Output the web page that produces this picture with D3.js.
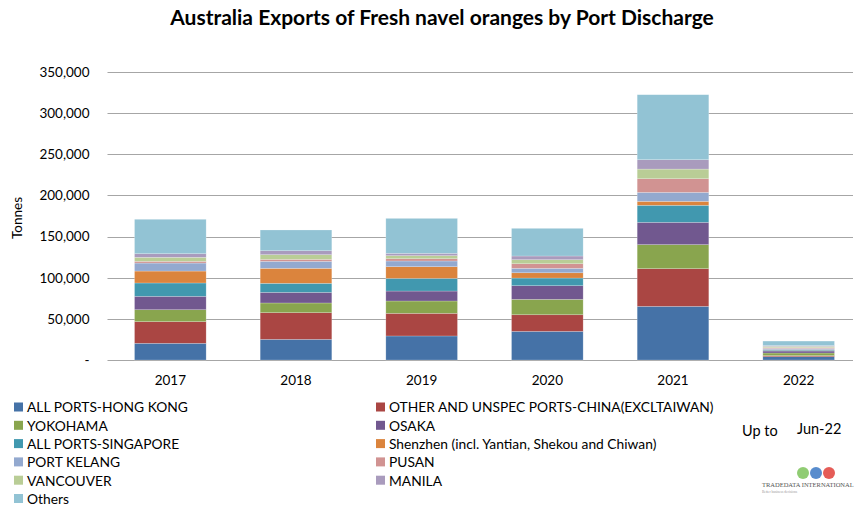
<!DOCTYPE html>
<html>
<head>
<meta charset="utf-8">
<script src="https://cdn.jsdelivr.net/npm/d3@7"></script>
<style>
  body { margin: 0; background: #fff; }
  svg { font-family: Lato, "Open Sans", sans-serif; }
</style>
</head>
<body>
<div id="chart"></div>
<script>
const years = ["2017", "2018", "2019", "2020", "2021", "2022"];
const ports = [
    "ALL PORTS-HONG KONG", "OTHER AND UNSPEC PORTS-CHINA(EXCLTAIWAN)",
    "YOKOHAMA", "OSAKA",
    "ALL PORTS-SINGAPORE", "Shenzhen (incl. Yantian, Shekou and Chiwan)",
    "PORT KELANG", "PUSAN",
    "VANCOUVER", "MANILA",
    "Others"
];
const portColors = ["#4572a7", "#aa4643", "#89a54e", "#71588f", "#4198af", "#db843d",
    "#93a9cf", "#d19392", "#b9cd96", "#a99bbd", "#92c3d4"];

// tonnes per year, one array per port
const hongKong   = [20300, 25100, 29200, 34800, 65200, 4000];
const chinaOther = [26300, 32400, 27500, 20200, 45800, 1300];
const yokohama   = [14500, 11800, 15000, 18700, 29200, 3200];
const osaka      = [16300, 12900, 12100, 16600, 27100, 2400];
const singapore  = [16200, 11000, 15400, 9300, 20700, 1100];
const shenzhen   = [14500, 18200, 14200, 6400, 4800, 500];
const portKelang = [9700, 8500, 6900, 5400, 10900, 1500];
const pusan      = [2100, 2400, 2800, 5600, 16600, 1000];
const vancouver  = [4900, 5700, 3700, 4900, 11700, 1500];
const manila     = [4400, 4800, 2800, 4500, 11400, 1000];
const others     = [41800, 25200, 42500, 33600, 79000, 5500];

const seriesValues = [hongKong, chinaOther, yokohama, osaka, singapore, shenzhen,
    portKelang, pusan, vancouver, manila, others];
const yTicks = [0, 50000, 100000, 150000, 200000, 250000, 300000, 350000];

const W = 854, H = 506;
const plot = { left: 107.5, right: 861.5, top: 72, bottom: 360 };

const svg = d3.select("#chart").append("svg")
    .attr("width", W)
    .attr("height", H);

svg.append("text")
    .attr("x", 442)
    .attr("y", 25)
    .attr("text-anchor", "middle")
    .style("font-size", "21px")
    .style("font-weight", "bold")
    .attr("fill", "#000")
    .text("Australia Exports of Fresh navel oranges by Port Discharge");

const x = d3.scaleBand()
    .domain(years)
    .range([plot.left, plot.right])
    .paddingInner(0.43)
    .paddingOuter(0.215);

const y = d3.scaleLinear()
    .domain([0, 350000])
    .range([plot.bottom, plot.top]);

// gridlines
svg.append("g")
    .selectAll("line")
    .data(yTicks)
    .join("line")
    .attr("x1", plot.left)
    .attr("x2", 853)
    .attr("y1", d => Math.round(y(d)) + 0.5)
    .attr("y2", d => Math.round(y(d)) + 0.5)
    .attr("stroke", "#a6a6a6")
    .attr("stroke-width", 1.2);

// y axis labels
svg.append("g")
    .attr("transform", `translate(${plot.left}, 0)`)
    .call(d3.axisLeft(y).tickValues(yTicks).tickSize(0).tickPadding(18)
        .tickFormat(d => d === 0 ? "-" : d3.format(",")(d)))
    .call(g => g.select(".domain").remove())
    .selectAll(".tick text")
    .style("font-family", "Lato, 'Open Sans', sans-serif")
    .style("font-size", "13.5px")
    .attr("fill", "#000");

svg.append("text")
    .attr("transform", "translate(22, 218) rotate(-90)")
    .attr("text-anchor", "middle")
    .style("font-size", "13.5px")
    .attr("fill", "#000")
    .text("Tonnes");

// stacked bars
const table = years.map((yr, i) => {
    const row = { year: yr };
    ports.forEach((p, j) => { row[p] = seriesValues[j][i]; });
    return row;
});
const stacked = d3.stack().keys(ports)(table);

svg.append("g")
    .selectAll("g")
    .data(stacked)
    .join("g")
    .attr("fill", (d, i) => portColors[i])
    .selectAll("rect")
    .data(d => d)
    .join("rect")
    .attr("x", d => x(d.data.year))
    .attr("width", x.bandwidth())
    .attr("y", d => y(d[1]))
    .attr("height", d => y(d[0]) - y(d[1]))
    .attr("stroke", "#ffffff")
    .attr("stroke-opacity", 0.35)
    .attr("stroke-width", 0.6);

// x axis labels
svg.append("g")
    .attr("transform", `translate(0, ${plot.bottom})`)
    .call(d3.axisBottom(x).tickSize(0).tickPadding(15))
    .call(g => g.select(".domain").remove())
    .selectAll(".tick text")
    .style("font-family", "Lato, 'Open Sans', sans-serif")
    .style("font-size", "13.5px")
    .attr("fill", "#000");

// legend, two columns
const legend = svg.append("g");
const legendItems = legend.selectAll("g")
    .data(ports)
    .join("g")
    .attr("transform", (d, i) => `translate(${i % 2 === 0 ? 14 : 376}, ${407.5 + Math.floor(i / 2) * 18.3})`);

legendItems.append("rect")
    .attr("x", 0)
    .attr("y", -5)
    .attr("width", 9)
    .attr("height", 9)
    .attr("fill", (d, i) => portColors[i]);

legendItems.append("text")
    .attr("x", 13)
    .attr("y", 0)
    .attr("dy", "0.35em")
    .style("font-size", "13.8px")
    .attr("fill", "#000")
    .text(d => d);

// "Up to" note
svg.append("text")
    .attr("x", 742)
    .attr("y", 436)
    .style("font-size", "14.5px")
    .attr("fill", "#000")
    .text("Up to");

svg.append("text")
    .attr("x", 797)
    .attr("y", 434)
    .style("font-size", "14.5px")
    .attr("fill", "#000")
    .text("Jun-22");

// small logo
const logo = svg.append("g").attr("transform", "translate(760, 465)");
["#7cc35a", "#3b78c4", "#e0403a"].forEach((c, i) => {
    logo.append("circle")
        .attr("cx", 43 + i * 13)
        .attr("cy", 8)
        .attr("r", 6)
        .attr("fill", c)
        .attr("opacity", 0.85);
});
logo.append("text")
    .attr("x", 2)
    .attr("y", 22)
    .style("font-family", "'Liberation Serif', serif")
    .style("font-size", "6.5px")
    .attr("fill", "#555")
    .text("TRADEDATA INTERNATIONAL");
logo.append("text")
    .attr("x", 2)
    .attr("y", 28)
    .style("font-family", "'Liberation Serif', serif")
    .style("font-size", "3.5px")
    .attr("fill", "#999")
    .text("Better business decisions");
</script>
</body>
</html>
